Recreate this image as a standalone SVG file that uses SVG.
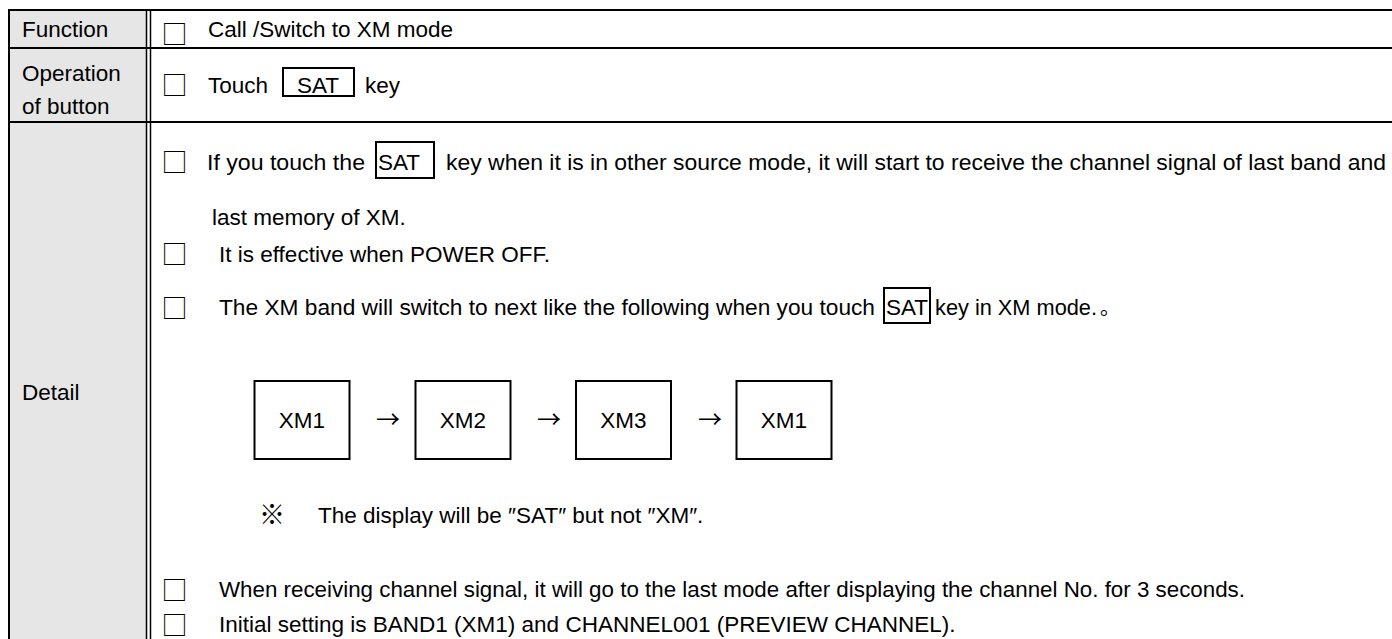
<svg xmlns="http://www.w3.org/2000/svg" width="1392" height="639" viewBox="0 0 1392 639">
<style>
.t{font-family:"Liberation Sans",Arial,sans-serif;font-size:22.5px;fill:#000}
.j{font-family:"Noto Sans CJK JP",sans-serif;fill:#000}
.cb{font-family:"Noto Sans CJK JP",sans-serif;font-size:26px;fill:#000}
.ln{stroke:#000;stroke-width:2;fill:none}
.ln2{stroke:#000;stroke-width:1.5;fill:none}
.box{fill:#fff;stroke:#000;stroke-width:2}
.key{fill:none;stroke:#000;stroke-width:2}
</style>
<rect width="1392" height="639" fill="#fff"/>
<g id="table">
<rect x="9" y="10" width="137.5" height="629" fill="#e6e6e6"/>
<line class="ln" x1="8" y1="10" x2="1392" y2="10"/>
<line class="ln" x1="9" y1="48" x2="1392" y2="48"/>
<line class="ln" x1="9" y1="122" x2="1392" y2="122"/>
<line class="ln" x1="9" y1="9" x2="9" y2="639"/>
<line class="ln2" x1="146.5" y1="10" x2="146.5" y2="639"/>
<line class="ln2" x1="150.5" y1="10" x2="150.5" y2="639"/>
</g>
<g id="row-function">
<text class="t" x="22" y="37">Function</text>
<text class="cb" x="161.5" y="44">□</text>
<text class="t" x="208" y="37">Call /Switch to XM mode</text>
</g>
<g id="row-operation">
<text class="t" x="22" y="81">Operation</text>
<text class="t" x="22" y="114">of button</text>
<text class="cb" x="161.5" y="94.5">□</text>
<text class="t" x="208" y="93">Touch</text>
<rect class="key" x="283" y="68" width="71" height="28"/>
<text class="t" x="297" y="93">SAT</text>
<text class="t" x="365" y="93">key</text>
</g>
<g id="row-detail">
<text class="t" x="22" y="400">Detail</text>
<text class="cb" x="161.5" y="172">□</text>
<text class="t" x="207" y="170" textLength="158" lengthAdjust="spacingAndGlyphs">If you touch the</text>
<rect class="key" x="376" y="142" width="58" height="36"/>
<text class="t" x="378" y="170">SAT</text>
<text class="t" x="446" y="170" textLength="940" lengthAdjust="spacingAndGlyphs">key when it is in other source mode, it will start to receive the channel signal of last band and</text>
<text class="t" x="212" y="225">last memory of XM.</text>
<text class="cb" x="161.5" y="263.5">□</text>
<text class="t" x="219" y="262">It is effective when POWER OFF.</text>
<text class="cb" x="161.5" y="318">□</text>
<text class="t" x="219" y="315" textLength="656" lengthAdjust="spacingAndGlyphs">The XM band will switch to next like the following when you touch</text>
<rect class="key" x="884" y="288" width="46" height="35"/>
<text class="t" x="886" y="315">SAT</text>
<text class="t" x="935" y="315" textLength="162" lengthAdjust="spacingAndGlyphs">key in XM mode.</text>
<text class="j" x="1100" y="315" font-size="20">。</text>
<text class="j" x="259" y="524" font-size="26">※</text>
<text class="t" x="318" y="523">The display will be ″SAT″ but not ″XM″.</text>
<text class="cb" x="161.5" y="599.5">□</text>
<text class="t" x="219" y="597" textLength="1026" lengthAdjust="spacingAndGlyphs">When receiving channel signal, it will go to the last mode after displaying the channel No. for 3 seconds.</text>
<text class="cb" x="161.5" y="634.5">□</text>
<text class="t" x="219" y="632">Initial setting is BAND1 (XM1) and CHANNEL001 (PREVIEW CHANNEL).</text>
</g>
<g id="node-xm1-a">
<rect class="box" x="254.5" y="381" width="95" height="78"/>
<text class="t" x="302" y="428" text-anchor="middle">XM1</text>
</g>
<g id="node-xm2">
<rect class="box" x="415.5" y="381" width="95" height="78"/>
<text class="t" x="463" y="428" text-anchor="middle">XM2</text>
</g>
<g id="node-xm3">
<rect class="box" x="576" y="381" width="95" height="78"/>
<text class="t" x="623.5" y="428" text-anchor="middle">XM3</text>
</g>
<g id="node-xm1-b">
<rect class="box" x="736.5" y="381" width="95" height="78"/>
<text class="t" x="784" y="428" text-anchor="middle">XM1</text>
</g>
<g id="connectors">
<text class="j" x="388" y="428" font-size="24" text-anchor="middle">→</text>
<text class="j" x="549" y="428" font-size="24" text-anchor="middle">→</text>
<text class="j" x="710" y="428" font-size="24" text-anchor="middle">→</text>
</g>
</svg>
